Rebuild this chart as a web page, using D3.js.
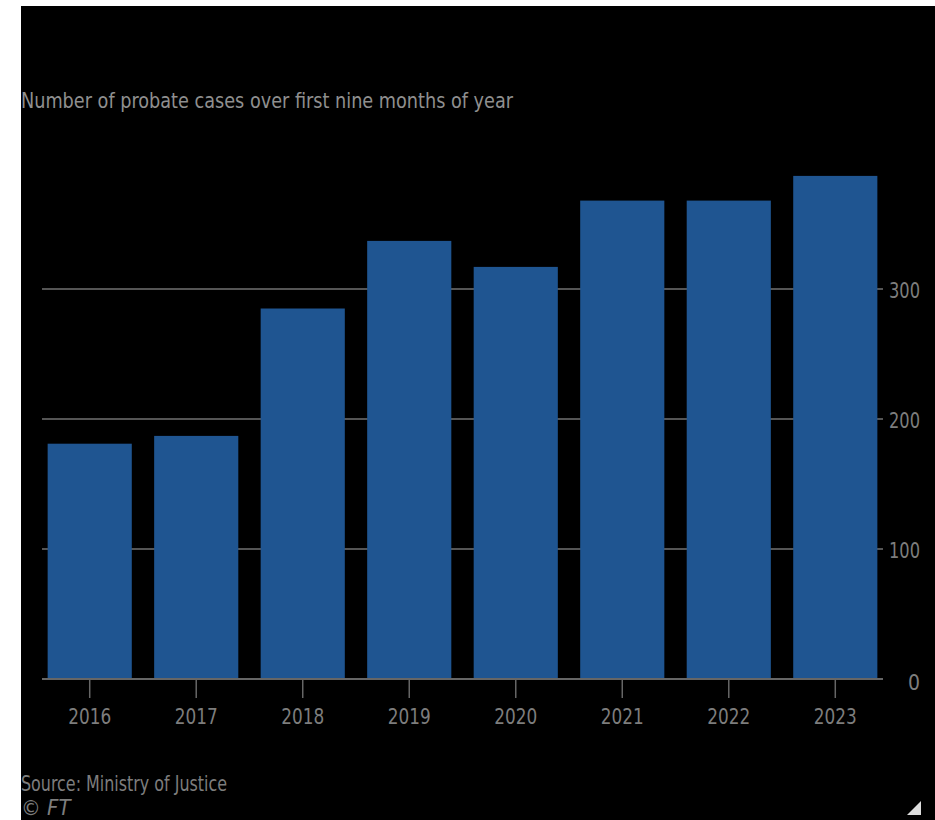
<!DOCTYPE html>
<html>
<head>
<meta charset="utf-8">
<script src="https://cdn.jsdelivr.net/npm/d3@7"></script>
<style>
  html, body { margin: 0; padding: 0; background: #fff; }
  svg { display: block; }
  text { font-family: "Liberation Sans Narrow", "DejaVu Sans Condensed", sans-serif; }
</style>
</head>
<body>
<div id="chart"></div>
<script>
// data
const years = ['2016', '2017', '2018', '2019', '2020', '2021', '2022', '2023'];
const cases = [181, 187, 285, 337, 317, 368, 368, 387];
const yTicks = [0, 100, 200, 300];

const width = 935;
const height = 820;

const svg = d3.select('#chart').append('svg')
    .attr('width', width)
    .attr('height', height);

// dark panel
svg.append('rect')
    .attr('x', 21)
    .attr('y', 6)
    .attr('width', width - 21)
    .attr('height', height - 6)
    .attr('fill', '#000');

const x = d3.scaleBand()
    .domain(years)
    .range([42, 883])
    .paddingInner(0.21)
    .paddingOuter(0.053);

const y = d3.scaleLinear()
    .domain([0, 400])
    .range([679, 159]);

// title
svg.append('text')
    .attr('x', 21)
    .attr('y', 108)
    .attr('fill', '#8f8f8f')
    .attr('font-size', 22)
    .attr('textLength', 492)
    .attr('lengthAdjust', 'spacingAndGlyphs')
    .text('Number of probate cases over first nine months of year');

// gridlines
const grid = svg.append('g');
grid.selectAll('line')
    .data(yTicks.filter(d => d > 0))
    .enter()
    .append('line')
    .attr('x1', 42)
    .attr('x2', 883)
    .attr('y1', d => y(d))
    .attr('y2', d => y(d))
    .attr('stroke', '#555')
    .attr('stroke-width', 2);

// bars
svg.append('g').selectAll('rect')
    .data(years.map((yr, i) => ({ year: yr, value: cases[i] })))
    .enter()
    .append('rect')
    .attr('x', d => x(d.year))
    .attr('y', d => y(d.value))
    .attr('width', x.bandwidth())
    .attr('height', d => y(0) - y(d.value))
    .attr('fill', '#1f5591');

// y axis on the right
const yAxis = svg.append('g')
    .attr('transform', 'translate(920,0)')
    .call(d3.axisRight(y).tickValues(yTicks).tickSize(0).tickPadding(0));
yAxis.select('.domain').remove();
yAxis.selectAll('text')
    .attr('text-anchor', 'end')
    .attr('fill', '#7d7d7d')
    .attr('font-size', 21)
    .attr('dy', '0.4em');
yAxis.selectAll('text').filter(d => d > 0)
    .attr('textLength', 31)
    .attr('lengthAdjust', 'spacingAndGlyphs');
yAxis.selectAll('text').filter(d => d === 0).attr('dy', '0.5em');

// x axis
const xAxis = svg.append('g')
    .attr('transform', `translate(0,${y(0)})`)
    .call(d3.axisBottom(x).tickSizeInner(19).tickSizeOuter(0).tickPadding(11));
xAxis.select('.domain')
    .attr('d', 'M42,0H883')
    .attr('stroke', '#666')
    .attr('stroke-width', 2);
xAxis.selectAll('.tick line')
    .attr('stroke', '#666')
    .attr('stroke-width', 1.5);
xAxis.selectAll('text')
    .attr('fill', '#7d7d7d')
    .attr('font-size', 21)
    .attr('textLength', 43)
    .attr('lengthAdjust', 'spacingAndGlyphs');

// footer
svg.append('text')
    .attr('x', 21)
    .attr('y', 791)
    .attr('fill', '#7d7d7d')
    .attr('font-size', 22)
    .attr('textLength', 206)
    .attr('lengthAdjust', 'spacingAndGlyphs')
    .text('Source: Ministry of Justice');

svg.append('text')
    .attr('x', 21)
    .attr('y', 815)
    .attr('fill', '#7d7d7d')
    .attr('font-size', 22)
    .attr('font-style', 'italic')
    .text('\u00A9 FT');

// corner marker
svg.append('path')
    .attr('d', 'M907,815L921,801L921,815Z')
    .attr('fill', '#ddd');
</script>
</body>
</html>
